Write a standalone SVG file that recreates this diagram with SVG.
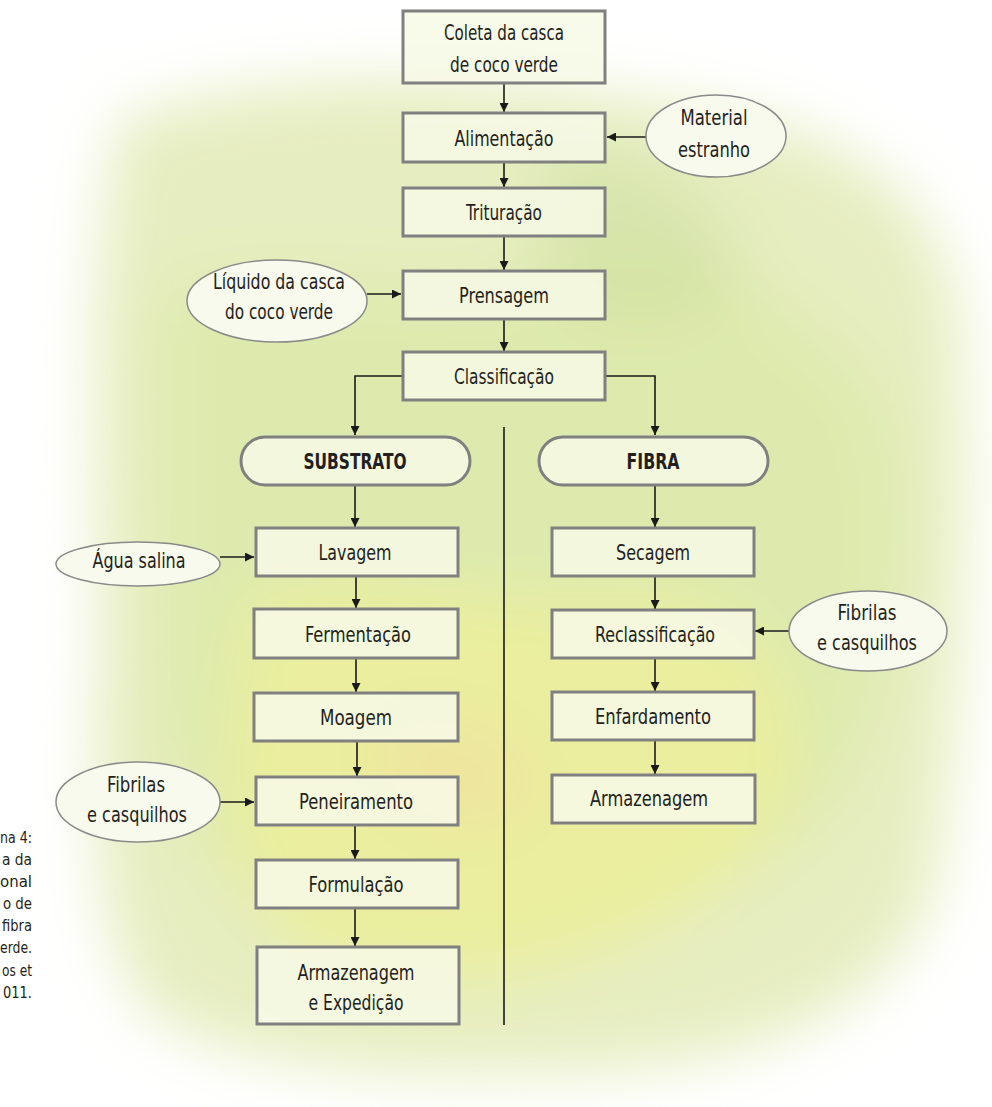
<svg xmlns="http://www.w3.org/2000/svg" width="992" height="1107" viewBox="0 0 992 1107">
<defs>
<filter id="blur" x="-20%" y="-20%" width="140%" height="140%"><feGaussianBlur stdDeviation="30"/></filter>
<marker id="ah" viewBox="0 0 10 10" refX="10" refY="5" markerWidth="9" markerHeight="9" markerUnits="userSpaceOnUse" orient="auto"><path d="M0,0 L10,5 L0,10 Z" fill="#1a1a1a"/></marker>
<style>
.box{fill:#f7f9e6;fill-opacity:0.85;stroke:#808080;stroke-width:3}
.ell{fill:#f9faee;stroke:#8a8a8a;stroke-width:1.5}
.pill{fill:#f7f9e6;fill-opacity:0.85;stroke:#808080;stroke-width:3}
.t{font-family:"DejaVu Sans Condensed","Liberation Sans",sans-serif;font-size:22px;fill:#231f20;text-anchor:middle}
.b{font-weight:bold;font-size:22px}
.cap{font-family:"DejaVu Sans Condensed","Liberation Sans",sans-serif;font-size:16px;fill:#231f20;text-anchor:end}
.c{stroke:#1a1a1a;stroke-width:1.6;fill:none}
</style>
</defs>
<rect width="992" height="1107" fill="#ffffff"/>
<g id="background" filter="url(#blur)">
<path d="M120,120 C300,60 520,80 700,110 C850,130 960,200 960,350 C970,500 960,700 940,850 C930,980 800,1060 600,1070 C420,1080 250,1070 160,1020 C90,960 90,800 100,650 C100,500 80,300 120,120 Z" fill="#e6edc0"/>
<path d="M160,300 C300,250 450,320 560,260 C680,220 800,300 880,400 C920,520 900,700 820,820 C700,920 550,960 400,960 C260,950 170,850 160,700 Z" fill="#dce9a8" opacity="0.8"/>
<path d="M250,600 C380,560 520,620 640,600 C760,600 820,700 780,820 C700,940 520,1000 380,980 C260,960 220,850 230,740 Z" fill="#ecef9a" opacity="0.8"/>
<path d="M380,720 C450,700 520,730 540,780 C540,830 470,840 420,820 C380,800 360,760 380,720 Z" fill="#f0e0a0" opacity="0.6"/>
<path d="M560,150 C640,140 720,200 740,260 C740,320 650,340 590,320 C540,290 520,200 560,150 Z" fill="#cfe0a0" opacity="0.6"/>
</g>
<g id="caption">
<text class="cap" x="32" y="843" textLength="32" lengthAdjust="spacingAndGlyphs">na 4:</text>
<text class="cap" x="32" y="865" textLength="30" lengthAdjust="spacingAndGlyphs">a da</text>
<text class="cap" x="32" y="887" textLength="32" lengthAdjust="spacingAndGlyphs">onal</text>
<text class="cap" x="32" y="909" textLength="29" lengthAdjust="spacingAndGlyphs">o de</text>
<text class="cap" x="32" y="931" textLength="30" lengthAdjust="spacingAndGlyphs">fibra</text>
<text class="cap" x="32" y="953" textLength="32" lengthAdjust="spacingAndGlyphs">erde.</text>
<text class="cap" x="32" y="976" textLength="30" lengthAdjust="spacingAndGlyphs">os et</text>
<text class="cap" x="32" y="998" textLength="29" lengthAdjust="spacingAndGlyphs">011.</text>
</g>
<g id="connectors">
<line class="c" x1="504" y1="84" x2="504" y2="112" marker-end="url(#ah)"/>
<line class="c" x1="504" y1="163" x2="504" y2="187" marker-end="url(#ah)"/>
<line class="c" x1="504" y1="237" x2="504" y2="270" marker-end="url(#ah)"/>
<line class="c" x1="504" y1="320" x2="504" y2="351" marker-end="url(#ah)"/>
<line class="c" x1="646" y1="137" x2="607" y2="137" marker-end="url(#ah)"/>
<line class="c" x1="367" y1="294" x2="401" y2="294" marker-end="url(#ah)"/>
<polyline class="c" points="402,376 355,376 355,435" marker-end="url(#ah)"/>
<polyline class="c" points="606,376 655,376 655,435" marker-end="url(#ah)"/>
<line class="c" x1="504" y1="427" x2="504" y2="1025"/>
<line class="c" x1="355" y1="486" x2="355" y2="527" marker-end="url(#ah)"/>
<line class="c" x1="655" y1="486" x2="655" y2="527" marker-end="url(#ah)"/>
<line class="c" x1="220" y1="557" x2="254" y2="557" marker-end="url(#ah)"/>
<line class="c" x1="356" y1="577" x2="356" y2="608" marker-end="url(#ah)"/>
<line class="c" x1="356" y1="659" x2="356" y2="692" marker-end="url(#ah)"/>
<line class="c" x1="357" y1="742" x2="357" y2="776" marker-end="url(#ah)"/>
<line class="c" x1="220" y1="802" x2="254" y2="802" marker-end="url(#ah)"/>
<line class="c" x1="355" y1="826" x2="355" y2="859" marker-end="url(#ah)"/>
<line class="c" x1="355" y1="909" x2="355" y2="946" marker-end="url(#ah)"/>
<line class="c" x1="655" y1="577" x2="655" y2="609" marker-end="url(#ah)"/>
<line class="c" x1="789" y1="631" x2="755" y2="631" marker-end="url(#ah)"/>
<line class="c" x1="655" y1="659" x2="655" y2="691" marker-end="url(#ah)"/>
<line class="c" x1="655" y1="741" x2="655" y2="774" marker-end="url(#ah)"/>
</g>
<g id="coleta"><rect class="box" x="403" y="11" width="202" height="72"/><text class="t" x="504" y="40" textLength="120" lengthAdjust="spacingAndGlyphs">Coleta da casca</text><text class="t" x="504" y="72" textLength="108" lengthAdjust="spacingAndGlyphs">de coco verde</text></g>
<g id="alimentacao"><rect class="box" x="403" y="113" width="202" height="49"/><text class="t" x="504" y="146" textLength="99" lengthAdjust="spacingAndGlyphs">Alimentação</text></g>
<g id="material"><ellipse class="ell" cx="716" cy="136" rx="70" ry="41"/><text class="t" x="714" y="125" textLength="67" lengthAdjust="spacingAndGlyphs">Material</text><text class="t" x="714" y="157" textLength="72" lengthAdjust="spacingAndGlyphs">estranho</text></g>
<g id="trituracao"><rect class="box" x="403" y="188" width="202" height="48"/><text class="t" x="504" y="220" textLength="76" lengthAdjust="spacingAndGlyphs">Trituração</text></g>
<g id="liquido"><ellipse class="ell" cx="277" cy="301" rx="90" ry="41"/><text class="t" x="279" y="289" textLength="132" lengthAdjust="spacingAndGlyphs">Líquido da casca</text><text class="t" x="279" y="319" textLength="108" lengthAdjust="spacingAndGlyphs">do coco verde</text></g>
<g id="prensagem"><rect class="box" x="403" y="271" width="202" height="48"/><text class="t" x="504" y="303" textLength="90" lengthAdjust="spacingAndGlyphs">Prensagem</text></g>
<g id="classificacao"><rect class="box" x="403" y="352" width="202" height="48"/><text class="t" x="504" y="384" textLength="100" lengthAdjust="spacingAndGlyphs">Classificação</text></g>
<g id="substrato"><rect class="pill" x="241" y="437" width="229" height="48" rx="24"/><text class="t b" x="355" y="469" textLength="103" lengthAdjust="spacingAndGlyphs">SUBSTRATO</text></g>
<g id="fibra"><rect class="pill" x="539" y="437" width="229" height="48" rx="24"/><text class="t b" x="653" y="469" textLength="53" lengthAdjust="spacingAndGlyphs">FIBRA</text></g>
<g id="agua"><ellipse class="ell" cx="138" cy="564" rx="82" ry="22"/><text class="t" x="139" y="568" textLength="93" lengthAdjust="spacingAndGlyphs">Água salina</text></g>
<g id="lavagem"><rect class="box" x="256" y="528" width="202" height="48"/><text class="t" x="355" y="560" textLength="73" lengthAdjust="spacingAndGlyphs">Lavagem</text></g>
<g id="fermentacao"><rect class="box" x="254" y="609" width="204" height="49"/><text class="t" x="358" y="642" textLength="106" lengthAdjust="spacingAndGlyphs">Fermentação</text></g>
<g id="moagem"><rect class="box" x="254" y="693" width="204" height="48"/><text class="t" x="356" y="725" textLength="72" lengthAdjust="spacingAndGlyphs">Moagem</text></g>
<g id="fibrilas1"><ellipse class="ell" cx="138" cy="802" rx="82" ry="40"/><text class="t" x="136" y="792" textLength="58" lengthAdjust="spacingAndGlyphs">Fibrilas</text><text class="t" x="137" y="822" textLength="100" lengthAdjust="spacingAndGlyphs">e casquilhos</text></g>
<g id="peneiramento"><rect class="box" x="256" y="777" width="202" height="48"/><text class="t" x="356" y="809" textLength="114" lengthAdjust="spacingAndGlyphs">Peneiramento</text></g>
<g id="formulacao"><rect class="box" x="256" y="860" width="202" height="48"/><text class="t" x="356" y="892" textLength="95" lengthAdjust="spacingAndGlyphs">Formulação</text></g>
<g id="armexp"><rect class="box" x="257" y="947" width="202" height="77"/><text class="t" x="356" y="980" textLength="117" lengthAdjust="spacingAndGlyphs">Armazenagem</text><text class="t" x="356" y="1010" textLength="95" lengthAdjust="spacingAndGlyphs">e Expedição</text></g>
<g id="secagem"><rect class="box" x="552" y="528" width="202" height="48"/><text class="t" x="653" y="560" textLength="74" lengthAdjust="spacingAndGlyphs">Secagem</text></g>
<g id="reclassificacao"><rect class="box" x="552" y="610" width="202" height="48"/><text class="t" x="655" y="642" textLength="120" lengthAdjust="spacingAndGlyphs">Reclassificação</text></g>
<g id="fibrilas2"><ellipse class="ell" cx="868" cy="631" rx="79" ry="40"/><text class="t" x="867" y="620" textLength="59" lengthAdjust="spacingAndGlyphs">Fibrilas</text><text class="t" x="867" y="650" textLength="100" lengthAdjust="spacingAndGlyphs">e casquilhos</text></g>
<g id="enfardamento"><rect class="box" x="552" y="692" width="202" height="48"/><text class="t" x="653" y="724" textLength="116" lengthAdjust="spacingAndGlyphs">Enfardamento</text></g>
<g id="armazenagem"><rect class="box" x="552" y="775" width="203" height="48"/><text class="t" x="649" y="806" textLength="118" lengthAdjust="spacingAndGlyphs">Armazenagem</text></g>
</svg>
